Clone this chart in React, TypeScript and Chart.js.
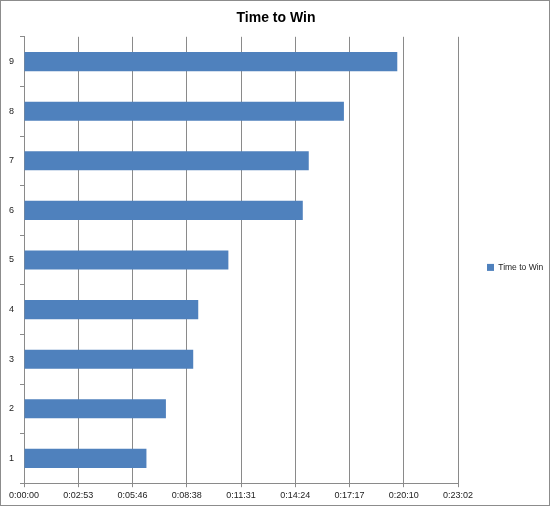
import React, { useEffect, useRef } from "react";
import { Chart, registerables } from "chart.js";

Chart.register(...registerables);

const chartTitle = "Time to Win";
const seriesName = "Time to Win";
const categories = ["1", "2", "3", "4", "5", "6", "7", "8", "9"];
// seconds
const timeToWinSeconds = [390, 452, 539, 555, 651, 888, 907, 1019, 1189];
const xTickSeconds = [0, 172.8, 345.6, 518.4, 691.2, 864, 1036.8, 1209.6, 1382.4];

function formatTime(sec: number): string {
  const s = Math.round(sec);
  const h = Math.floor(s / 3600);
  const m = Math.floor((s % 3600) / 60);
  const r = s % 60;
  return `${h}:${String(m).padStart(2, "0")}:${String(r).padStart(2, "0")}`;
}

const FONT = "'Liberation Sans', Arial, sans-serif";
const GRID = "#8a8a8a";

export default function App() {
  const ref = useRef<HTMLCanvasElement | null>(null);

  useEffect(() => {
    if (!ref.current) return;
    const chart = new Chart(ref.current, {
      type: "bar",
      data: {
        labels: categories,
        datasets: [
          {
            label: seriesName,
            data: timeToWinSeconds,
            backgroundColor: "#4F81BD",
            borderWidth: 0,
            barPercentage: 0.385,
            categoryPercentage: 1,
          },
        ],
      },
      options: {
        indexAxis: "y",
        animation: false,
        responsive: false,
        devicePixelRatio: 1,
        layout: { padding: { left: 2, right: 0, top: 0, bottom: 1 } },
        plugins: {
          title: {
            display: true,
            text: chartTitle,
            color: "#000",
            font: { family: FONT, size: 14, weight: "bold" },
            padding: { top: 9, bottom: 10 },
          },
          legend: {
            position: "right",
            maxWidth: 91,
            title: {
              display: true,
              text: " ",
              font: { family: FONT, size: 9 },
              padding: { top: 10, bottom: 9 },
            },
            labels: {
              boxWidth: 7,
              boxHeight: 7,
              padding: 29,
              color: "#222",
              font: { family: FONT, size: 8.5 },
            },
          },
          tooltip: { enabled: false },
        },
        scales: {
          x: {
            type: "linear",
            min: 0,
            max: 1382.4,
            afterBuildTicks: (scale: any) => {
              scale.ticks = xTickSeconds.map((v) => ({ value: v }));
            },
            grid: { color: GRID, tickLength: 4, drawTicks: true },
            border: { color: GRID },
            ticks: {
              autoSkip: false,
              maxRotation: 0,
              padding: 3,
              color: "#222",
              font: { family: FONT, size: 9 },
              callback: (v: any) => formatTime(Number(v)),
            },
          },
          y: {
            type: "category",
            reverse: true,
            offset: true,
            grid: { display: true, drawOnChartArea: false, offset: true, tickLength: 4, color: GRID },
            border: { color: GRID },
            ticks: {
              padding: 6,
              color: "#222",
              font: { family: FONT, size: 9 },
            },
          },
        },
      },
    } as any);
    return () => chart.destroy();
  }, []);

  return (
    <div
      style={{
        position: "fixed",
        left: 0,
        top: 0,
        width: 550,
        height: 506,
        boxSizing: "border-box",
        border: "1px solid #8c8c8c",
        background: "#fff",
      }}
    >
      <canvas ref={ref} width={548} height={504} style={{ display: "block" }} />
    </div>
  );
}
